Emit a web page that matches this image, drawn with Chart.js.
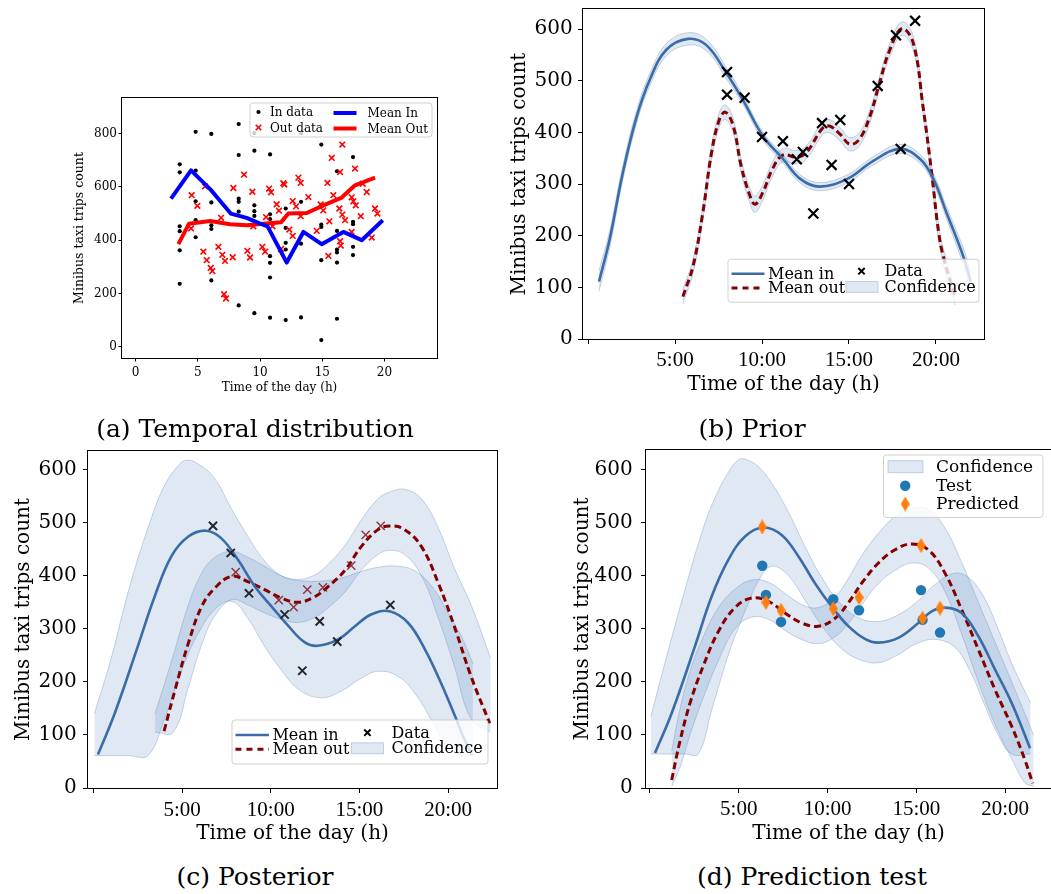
<!DOCTYPE html>
<html>
<head>
<meta charset="utf-8">
<script src="https://cdn.jsdelivr.net/npm/chart.js@4.4.1/dist/chart.umd.min.js"></script>
<style>
  html, body { margin: 0; padding: 0; background: #fff; }
  body { position: relative; width: 1051px; height: 894px; overflow: hidden; }
  canvas { position: absolute; }
  .cap { position: absolute; font-family: 'DejaVu Serif', serif; font-size: 25px; line-height: 25px;
         color: #000; white-space: nowrap; transform: translateX(-50%); }
</style>
</head>
<body>
<canvas id="panelA" width="390" height="312" style="left:60px;top:90px;width:390px;height:312px"></canvas>
<canvas id="panelB" width="500" height="400" style="left:500px;top:0px;width:500px;height:400px"></canvas>
<canvas id="panelC" width="510" height="410" style="left:0px;top:440px;width:510px;height:410px"></canvas>
<canvas id="panelD" width="500" height="410" style="left:560px;top:440px;width:500px;height:410px"></canvas>
<div class="cap" style="left:255px;top:416px">(a) Temporal distribution</div>
<div class="cap" style="left:752px;top:416px">(b) Prior</div>
<div class="cap" style="left:255px;top:864px">(c) Posterior</div>
<div class="cap" style="left:812px;top:864px">(d) Prediction test</div>
<script>
// ---------- (a) temporal distribution ----------
const aInHours = [3.54,3.54,3.54,3.54,3.54,3.54, 4.82,4.82,4.82,4.82,4.82, 6.08,6.08,6.08,6.08,6.08,
  8.28,8.28,8.28,8.28,8.28,8.28, 9.54,9.54,9.54,9.54,9.54,9.54, 10.8,10.8,10.8,10.8,10.8,10.8,10.8,
  12.06,12.06,12.06,12.06,12.06, 13.29,13.29,13.29,13.29, 14.92,14.92,14.92,14.92,14.92,
  16.18,16.18,16.18,16.18,16.18,16.18, 17.47,17.47,17.47,17.47,17.47];
const aInCounts = [685,655,452,434,362,236, 807,661,546,475,411, 799,542,456,442,249,
  836,720,556,544,507,155, 802,736,531,509,491,126, 722,497,479,340,315,260,109,
  519,446,390,365,100, 802,544,387,110, 759,459,450,325,25,
  659,435,365,354,316,105, 712,469,460,375,344];
const aOutHours = [4.5,4.96,4.45,5.44,5.71,6.03,6.16,5.57,6.65,6.86,6.97,7.18,7.1,7.26,7.8,7.85,8.71,8.98,9.19,9.38,
  9.46,10.18,10.4,10.48,10.72,10.88,11.0,11.33,11.52,11.68,11.87,11.95,12.35,12.62,12.62,12.89,13.08,13.26,13.26,13.88,
  14.55,14.87,15.08,15.41,15.49,15.57,15.76,15.89,16.37,16.43,16.48,16.61,16.61,16.83,17.36,17.5,17.63,17.69,17.36,18.09,
  18.25,18.57,18.97,19.24,19.43,16.43];
const aOutCounts = [569,529,444,357,325,296,284,602,375,484,345,322,197,181,336,596,646,360,335,582,
  452,375,357,487,594,580,452,535,511,367,614,609,440,416,547,527,635,615,490,562,
  435,534,512,615,341,471,709,569,519,396,380,759,496,475,561,546,669,531,431,490,
  612,581,410,519,500,656];
const aMeanInHours = [2.84, 4.45, 5.98, 7.64, 8.92, 10.0, 10.6, 12.14, 13.48, 14.95, 16.69, 18.17, 19.86];
const aMeanIn = [556, 662, 592, 500, 484, 462, 452, 316, 431, 385, 431, 400, 475];
const aMeanOutHours = [3.43, 4.29, 5.98, 7.58, 8.92, 10.26, 11.68, 12.27, 13.75, 15.09, 16.56, 17.63, 19.24];
const aMeanOut = [385, 462, 472, 460, 456, 462, 467, 500, 502, 531, 560, 606, 635];
const aHourTicks = [0, 5, 10, 15, 20];
const aHourLabels = ['0', '5', '10', '15', '20'];
const aCountTicks = [0, 200, 400, 600, 800];

// ---------- (b) prior ----------
const bInHours = [0.63, 1.25, 2.0, 2.8, 3.55, 4.5, 5.75, 6.8, 7.95, 8.9, 10.05, 11.2, 12.2, 13.3, 14.9, 16.4, 17.95, 19.1, 19.85, 20.6, 21.55, 22.0];
const bMeanIn  = [111, 194, 322, 431, 502, 560, 581, 569, 515, 463, 393, 349, 310, 295, 310, 345, 368, 348, 310, 245, 162, 111];
const bInUpper = [132, 211, 336, 444, 514, 572, 593, 580, 526, 472, 401, 357, 318, 303, 318, 353, 377, 357, 320, 257, 178, 130];
const bInLower = [92, 177, 308, 418, 490, 548, 569, 558, 504, 454, 385, 341, 302, 287, 302, 337, 359, 339, 300, 233, 146, 92];
const bOutHours = [5.45, 6.05, 6.6, 7.1, 7.55, 7.9, 8.35, 8.8, 9.3, 9.6, 10.05, 10.6, 11.2, 12.0, 12.55, 13.5, 13.9, 14.5, 15.05, 15.6,
  16.2, 16.7, 17.35, 18.05, 18.7, 19.25, 19.75, 20.15, 20.45, 21.1];
const bMeanOut  = [82, 143, 245, 361, 425, 439, 412, 335, 278, 261, 284, 329, 356, 352, 361, 409, 412, 396, 377, 387,
  431, 489, 560, 601, 572, 451, 322, 207, 156, 82];
const bOutUpper = [96, 157, 259, 375, 439, 453, 426, 349, 293, 277, 299, 343, 369, 365, 374, 422, 425, 409, 390, 400,
  444, 502, 573, 614, 586, 465, 337, 222, 172, 98];
const bOutLower = [68, 129, 231, 347, 411, 425, 398, 321, 263, 245, 269, 315, 343, 339, 348, 396, 399, 383, 364, 374,
  418, 476, 547, 588, 558, 437, 307, 192, 140, 66];
const bDataHours  = [7.99, 7.99, 9.0, 10.0, 11.2, 12.0, 12.35, 12.95, 13.45, 14.0, 14.5, 15.0, 16.65, 17.7, 17.97, 18.8];
const bDataCounts = [517, 473, 467, 391, 383, 348, 362, 243, 418, 337, 424, 300, 490, 588, 368, 616];

// ---------- (c) posterior ----------
const cInHours = [0.25, 1.2, 2.5, 3.45, 4.4, 5.35, 6.35, 7.2, 8.15, 9.1, 10.05, 11.0, 11.9, 12.65, 13.8, 14.75, 15.65, 16.7,
  17.75, 18.7, 19.6, 20.4, 20.85, 21.35];
const cMeanIn  = [63, 141, 267, 361, 437, 474, 485, 471, 430, 380, 342, 305, 275, 268, 280, 305, 327, 333,
  311, 261, 198, 135, 97, 62];
const cInBandHours = [0.05, 1.0, 2.0, 3.07, 4.0, 4.9, 5.25, 5.8, 6.8, 7.8, 8.7, 9.6, 10.6, 11.6, 12.85, 14.0, 15.0, 16.05,
  17.2, 18.2, 19.2, 20.0, 20.75, 21.4];
const cInUpper = [140, 245, 375, 490, 570, 612, 618, 613, 585, 525, 475, 430, 400, 391, 390, 396, 407, 416,
  418, 408, 375, 330, 286, 235];
const cInLower = [61, 61, 61, 61, 130, 215, 245, 285, 335, 352, 320, 270, 222, 185, 170, 183, 205, 220,
  210, 175, 120, 75, 61, 61];
const cOutHours = [3.98, 4.6, 5.35, 6.1, 6.85, 7.8, 8.7, 9.65, 10.6, 11.55, 12.5, 13.25, 14.2, 15.1, 16.05, 16.7, 17.55,
  18.5, 19.45, 20.35, 21.3, 22.35];
const cMeanOut = [107, 185, 273, 342, 377, 399, 389, 374, 358, 350, 361, 380, 411, 455, 487, 494, 487,
  455, 386, 305, 210, 122];
const cOutBandHours = [3.47, 4.5, 5.35, 6.1, 6.85, 7.8, 8.7, 9.65, 10.6, 11.55, 12.5, 13.25, 14.2, 15.1, 16.05, 16.7, 17.55,
  18.5, 19.45, 20.35, 21.3, 22.4];
const cOutUpper = [140, 250, 345, 405, 435, 446, 435, 418, 400, 393, 402, 422, 458, 505, 545, 558, 563,
  545, 490, 415, 345, 245];
const cOutLower = [105, 105, 190, 270, 325, 355, 345, 330, 318, 312, 322, 340, 370, 410, 440, 448, 440,
  400, 320, 230, 130, 105];
const cInDataHours  = [6.74, 7.74, 8.77, 10.78, 11.78, 12.76, 13.75, 16.74];
const cInDataCounts = [494, 443, 367, 327, 221, 314, 276, 345];
const cOutDataHours  = [8.02, 10.45, 11.29, 12.06, 12.94, 14.54, 15.35, 16.2];
const cOutDataCounts = [407, 354, 341, 374, 378, 419, 477, 494];

// ---------- (d) prediction test ----------
const dInHours = [0.28, 1.22, 2.53, 3.47, 4.41, 5.35, 6.38, 7.41, 8.35, 9.29, 10.23, 11.17, 12.1, 12.86, 13.98, 15.11, 15.86,
  16.61, 17.55, 18.49, 19.43, 20.37, 21.4];
const dMeanIn  = [66, 141, 267, 361, 430, 474, 491, 477, 437, 386, 342, 305, 281, 274, 283, 311, 333,
  340, 330, 286, 223, 160, 75];
const dInBandHours = [0.05, 0.84, 1.97, 2.72, 3.5, 4.5, 5.07, 5.5, 6.1, 6.85, 7.8, 8.8, 9.8, 10.8, 11.8, 12.86, 13.9, 15.0,
  16.1, 17.17, 18.0, 18.8, 19.6, 20.37, 21.43];
const dInUpper = [135, 236, 374, 460, 535, 600, 620, 618, 606, 575, 520, 450, 390, 345, 320, 314, 325, 350,
  385, 405, 395, 360, 300, 235, 160];
const dInLower = [64, 64, 64, 64, 150, 260, 310, 345, 390, 418, 400, 350, 300, 262, 242, 236, 250, 272,
  280, 265, 222, 160, 100, 64, 64];
const dOutHours = [1.22, 1.7, 2.3, 3.0, 3.85, 4.79, 5.73, 6.66, 7.6, 8.54, 9.48, 10.42, 11.17, 11.92, 12.86, 13.8, 14.73,
  15.67, 16.61, 17.55, 18.49, 19.43, 20.37, 21.11, 21.55];
const dMeanOut = [15, 90, 165, 230, 295, 340, 358, 352, 330, 311, 305, 320, 349, 386, 424, 449, 460,
  449, 405, 336, 261, 185, 116, 53, 9];
const dOutBandHours = [1.22, 1.7, 2.3, 3.0, 3.85, 4.79, 5.73, 6.66, 7.6, 8.54, 9.48, 10.42, 11.17, 11.92, 12.86, 13.8, 14.73,
  15.67, 16.61, 17.55, 18.49, 19.43, 20.37, 21.11, 21.6];
const dOutUpper = [70, 150, 225, 285, 340, 375, 392, 388, 367, 346, 340, 360, 395, 438, 480, 512, 527,
  525, 490, 425, 350, 275, 200, 140, 100];
const dOutLower = [3, 40, 105, 170, 240, 300, 322, 318, 297, 280, 272, 285, 310, 345, 385, 410, 424,
  415, 370, 290, 200, 120, 55, 10, 3];
const dTestHours  = [6.32, 6.53, 7.38, 10.32, 11.77, 15.26, 15.35, 16.33];
const dTestCounts = [419, 364, 313, 356, 335, 373, 317, 293];
const dPredCounts = [492, 350, 335, 338, 359, 457, 320, 339];

// shared tick values and labels for the GP panels
const hourTicks = [0, 5, 10, 15, 20];
const hourTickLabels = ['', '5:00', '10:00', '15:00', '20:00'];
const countTicks = [0, 100, 200, 300, 400, 500, 600];

// ---------- styling ----------
const SERIF = "'DejaVu Serif', serif";
const TIMES = "'Liberation Serif', 'Times New Roman', serif";
const BAND_FILL = 'rgba(80,130,190,0.18)';
const BAND_EDGE = 'rgba(70,110,170,0.28)';
const IN_BLUE = '#3a6ca7';
const OUT_RED = '#850000';
const DASH = [7, 4];
const SMOOTH = 0.4;

Chart.defaults.font.family = SERIF;
Chart.defaults.color = '#000';

const xy = (xs, ys) => xs.map((x, i) => ({ x, y: ys[i] }));

function thinDiamond(color, w, h) {
  const c = document.createElement('canvas');
  c.width = w; c.height = h;
  const g = c.getContext('2d');
  g.fillStyle = color;
  g.beginPath();
  g.moveTo(w / 2, 0); g.lineTo(w, h / 2); g.lineTo(w / 2, h); g.lineTo(0, h / 2);
  g.closePath(); g.fill();
  return c;
}
const DIAMOND = thinDiamond('#ff7f0e', 9, 15);

function band(hours, upper, lower, order) {
  const common = { borderColor: BAND_EDGE, borderWidth: 1, backgroundColor: BAND_FILL, pointRadius: 0,
                   tension: SMOOTH, order };
  return [
    Object.assign({ data: xy(hours, upper), fill: '+1' }, common),
    Object.assign({ data: xy(hours, lower), fill: false }, common)
  ];
}
function curve(hours, values, color, width, dash, order, tension) {
  return { data: xy(hours, values), borderColor: color, borderWidth: width, borderDash: dash || [],
           pointRadius: 0, fill: false, order, borderJoinStyle: 'round',
           tension: tension === undefined ? SMOOTH : tension };
}
function marks(hours, values, style, order) {
  return Object.assign({ data: xy(hours, values), showLine: false, fill: false, order, pointHoverRadius: 0 }, style);
}

function zeroPad(s) { s.paddingTop = 0; s.paddingBottom = 0; s.paddingLeft = 0; s.paddingRight = 0; }

function axes(o) {
  const f = (family, size) => ({ family, size, lineHeight: 1.2 });
  return {
    x: {
      type: 'linear', min: o.x[0], max: o.x[1],
      afterBuildTicks: s => { s.ticks = o.xTicks.map(value => ({ value })); },
      afterFit: s => { s.height = o.xHeight; zeroPad(s); },
      ticks: { autoSkip: false, maxRotation: 0, minRotation: 0, padding: o.xTickPad, color: '#000',
               font: f(o.xTickFamily, o.xTickSize), callback: v => o.xLabels[o.xTicks.indexOf(v)] },
      grid: { display: true, drawOnChartArea: false, drawTicks: true, tickLength: o.tickLen,
              tickColor: '#000', tickWidth: 1 },
      border: { display: false },
      title: { display: true, text: 'Time of the day (h)', color: '#000', font: f(SERIF, o.xTitleSize),
               padding: { top: 0, bottom: o.xTitlePad } }
    },
    y: {
      type: 'linear', min: o.y[0], max: o.y[1],
      afterBuildTicks: s => { s.ticks = o.yTicks.map(value => ({ value })); },
      afterFit: s => { s.width = o.yWidth; zeroPad(s); },
      ticks: { autoSkip: false, padding: o.yTickPad, color: '#000', font: f(SERIF, o.yTickSize),
               callback: v => String(v) },
      grid: { display: true, drawOnChartArea: false, drawTicks: true, tickLength: o.tickLen,
              tickColor: '#000', tickWidth: 1 },
      border: { display: false },
      title: { display: true, text: 'Minibus taxi trips count', color: '#000', font: f(SERIF, o.yTitleSize),
               padding: { top: o.yTitlePad, bottom: 0 } }
    }
  };
}

// black frame round the plotting area
const frame = {
  id: 'frame',
  afterDatasetsDraw(chart) {
    const { ctx, chartArea: a } = chart;
    const L = Math.round(a.left), T = Math.round(a.top), R = Math.round(a.right), B = Math.round(a.bottom);
    ctx.save();
    ctx.strokeStyle = '#000'; ctx.lineWidth = 1;
    ctx.strokeRect(L - 0.5, T - 0.5, R - L + 1, B - T + 1);
    ctx.restore();
  }
};

function roundRect(ctx, x, y, w, h, r) {
  ctx.beginPath();
  ctx.moveTo(x + r, y); ctx.lineTo(x + w - r, y); ctx.arcTo(x + w, y, x + w, y + r, r);
  ctx.lineTo(x + w, y + h - r); ctx.arcTo(x + w, y + h, x + w - r, y + h, r);
  ctx.lineTo(x + r, y + h); ctx.arcTo(x, y + h, x, y + h - r, r);
  ctx.lineTo(x, y + r); ctx.arcTo(x, y, x + r, y, r); ctx.closePath();
}

function drawKey(ctx, k, cx, cy) {
  ctx.save();
  if (k.type === 'line') {
    ctx.strokeStyle = k.color; ctx.lineWidth = k.width; ctx.setLineDash(k.dash || []);
    ctx.beginPath(); ctx.moveTo(cx - k.len / 2, cy); ctx.lineTo(cx + k.len / 2, cy); ctx.stroke();
  } else if (k.type === 'patch') {
    ctx.fillStyle = BAND_FILL; ctx.fillRect(cx - k.w / 2, cy - k.h / 2, k.w, k.h);
    ctx.strokeStyle = BAND_EDGE; ctx.lineWidth = 1; ctx.strokeRect(cx - k.w / 2, cy - k.h / 2, k.w, k.h);
  } else if (k.type === 'dot') {
    ctx.fillStyle = k.color; ctx.beginPath(); ctx.arc(cx, cy, k.r, 0, Math.PI * 2); ctx.fill();
  } else if (k.type === 'x') {
    ctx.strokeStyle = k.color; ctx.lineWidth = k.width; ctx.beginPath();
    ctx.moveTo(cx - k.r, cy - k.r); ctx.lineTo(cx + k.r, cy + k.r);
    ctx.moveTo(cx + k.r, cy - k.r); ctx.lineTo(cx - k.r, cy + k.r); ctx.stroke();
  } else if (k.type === 'diamond') {
    ctx.drawImage(DIAMOND, cx - DIAMOND.width / 2, cy - DIAMOND.height / 2);
  }
  ctx.restore();
}

function boxLegend(spec) {
  return {
    id: 'boxLegend',
    afterDraw(chart) {
      const { ctx, chartArea: a } = chart;
      const [x0, y0, x1, y1] = spec.box;
      const L = a.left + x0, T = a.top + y0;
      ctx.save();
      roundRect(ctx, L, T, x1 - x0, y1 - y0, 3);
      ctx.fillStyle = 'rgba(255,255,255,0.8)'; ctx.fill();
      ctx.strokeStyle = 'rgba(204,204,204,0.9)'; ctx.lineWidth = 1; ctx.stroke();
      ctx.font = spec.size + 'px ' + SERIF;
      ctx.textBaseline = 'middle';
      for (const it of spec.items) {
        drawKey(ctx, it.key, L + it.sx, T + it.y);
        ctx.fillStyle = '#000';
        ctx.fillText(it.text, L + it.tx, T + it.y + 1);
      }
      ctx.restore();
    }
  };
}

function build(id, layout, scales, datasets, legend) {
  return new Chart(document.getElementById(id), {
    type: 'line',
    data: { datasets },
    options: {
      responsive: false, animation: false, devicePixelRatio: 1, events: [],
      layout: { padding: layout },
      scales,
      plugins: { legend: { display: false }, tooltip: { enabled: false } }
    },
    plugins: [frame, boxLegend(legend)]
  });
}

// ---------- panel (a) ----------
build('panelA', { top: 8, right: 13, left: 0, bottom: 0 },
  axes({ x: [-1.10, 24.22], y: [-42.4, 934], xTicks: aHourTicks, xLabels: aHourLabels, yTicks: aCountTicks,
         xHeight: 44, yWidth: 62, tickLen: 3.5, xTickPad: 4, yTickPad: 1.5,
         xTickFamily: SERIF, xTickSize: 12, yTickSize: 12, xTitleSize: 12, xTitlePad: 6.5,
         yTitleSize: 12.5, yTitlePad: 12 }),
  [
    curve(aMeanInHours, aMeanIn, '#0000ff', 4, null, 1, 0),
    curve(aMeanOutHours, aMeanOut, '#ff0000', 4, null, 2, 0),
    marks(aOutHours, aOutCounts, { pointStyle: 'crossRot', pointRadius: 4, pointBorderColor: '#ff0000',
      pointBackgroundColor: '#ff0000', pointBorderWidth: 1.6 }, 3),
    marks(aInHours, aInCounts, { pointStyle: 'circle', pointRadius: 2.1, pointBorderWidth: 0,
      pointBackgroundColor: '#000', pointBorderColor: '#000' }, 4)
  ],
  { box: [128, 5, 310, 39], size: 12, items: [
    { text: 'In data', key: { type: 'dot', r: 2.1, color: '#000' }, sx: 8.5, tx: 20, y: 9 },
    { text: 'Out data', key: { type: 'x', r: 2.8, width: 1.6, color: '#ff0000' }, sx: 8.5, tx: 20, y: 24.5 },
    { text: 'Mean In', key: { type: 'line', len: 23, width: 4, color: '#0000ff' }, sx: 95, tx: 117.5, y: 10 },
    { text: 'Mean Out', key: { type: 'line', len: 23, width: 4, color: '#ff0000' }, sx: 95, tx: 117.5, y: 25.5 }
  ] });

// ---------- panel (b) ----------
build('panelB', { top: 7, right: 16, left: 0, bottom: 0 },
  axes({ x: [-0.29, 22.76], y: [0, 638.5], xTicks: hourTicks, xLabels: hourTickLabels, yTicks: countTicks,
         xHeight: 61, yWidth: 83, tickLen: 5, xTickPad: 3.4, yTickPad: 5.3,
         xTickFamily: TIMES, xTickSize: 21, yTickSize: 20, xTitleSize: 20, xTitlePad: 3.3,
         yTitleSize: 20, yTitlePad: 8 }),
  [
    marks(bDataHours, bDataCounts, { pointStyle: 'crossRot', pointRadius: 7, pointBorderColor: '#000',
      pointBackgroundColor: '#000', pointBorderWidth: 2.2 }, 0),
    curve(bInHours, bMeanIn, IN_BLUE, 2.6, null, 1),
    curve(bOutHours, bMeanOut, OUT_RED, 3, DASH, 2),
    ...band(bInHours, bInUpper, bInLower, 5),
    ...band(bOutHours, bOutUpper, bOutLower, 6)
  ],
  { box: [145, 250, 396, 293], size: 16, items: [
    { text: 'Mean in', key: { type: 'line', len: 33, width: 2.6, color: IN_BLUE }, sx: 20, tx: 40, y: 14.5 },
    { text: 'Mean out', key: { type: 'line', len: 33, width: 3, color: OUT_RED, dash: [6, 5] }, sx: 20, tx: 40, y: 28.7 },
    { text: 'Data', key: { type: 'x', r: 3.2, width: 2, color: '#000' }, sx: 133.5, tx: 156.5, y: 12 },
    { text: 'Confidence', key: { type: 'patch', w: 32, h: 11 }, sx: 134, tx: 156.5, y: 27.7 }
  ] });

// ---------- panel (c) ----------
build('panelC', { top: 11, right: 13, left: 0, bottom: 0 },
  axes({ x: [-0.31, 22.76], y: [0, 635.2], xTicks: hourTicks, xLabels: hourTickLabels, yTicks: countTicks,
         xHeight: 62, yWidth: 88, tickLen: 5, xTickPad: 4.4, yTickPad: 6.3,
         xTickFamily: TIMES, xTickSize: 21, yTickSize: 20, xTitleSize: 20, xTitlePad: 4.7,
         yTitleSize: 20, yTitlePad: 12 }),
  [
    marks(cInDataHours, cInDataCounts, { pointStyle: 'crossRot', pointRadius: 5.8, pointBorderColor: '#25262e',
      pointBackgroundColor: '#25262e', pointBorderWidth: 2 }, 0),
    marks(cOutDataHours, cOutDataCounts, { pointStyle: 'crossRot', pointRadius: 5.8, pointBorderColor: 'rgba(130,20,30,0.85)',
      pointBackgroundColor: 'rgba(130,20,30,0.85)', pointBorderWidth: 1.4 }, 0),
    curve(cInHours, cMeanIn, IN_BLUE, 2.6, null, 1),
    curve(cOutHours, cMeanOut, OUT_RED, 3, DASH, 2),
    ...band(cInBandHours, cInUpper, cInLower, 5),
    ...band(cOutBandHours, cOutUpper, cOutLower, 6)
  ],
  { box: [144, 269, 400, 313], size: 16, items: [
    { text: 'Mean in', key: { type: 'line', len: 33.5, width: 2.6, color: IN_BLUE }, sx: 20.2, tx: 40.4, y: 15 },
    { text: 'Mean out', key: { type: 'line', len: 33.5, width: 3, color: OUT_RED, dash: [6, 5] }, sx: 20.2, tx: 40.4, y: 29.3 },
    { text: 'Data', key: { type: 'x', r: 3.2, width: 2, color: '#000' }, sx: 135.4, tx: 159.4, y: 12.7 },
    { text: 'Confidence', key: { type: 'patch', w: 32, h: 11 }, sx: 135.5, tx: 159.4, y: 28.3 }
  ] });

// ---------- panel (d) ----------
build('panelD', { top: 10, right: 9, left: 0, bottom: 0 },
  axes({ x: [-0.225, 22.58], y: [0, 637.1], xTicks: hourTicks, xLabels: hourTickLabels, yTicks: countTicks,
         xHeight: 62, yWidth: 86, tickLen: 5, xTickPad: 3.4, yTickPad: 8.3,
         xTickFamily: TIMES, xTickSize: 21, yTickSize: 20, xTitleSize: 20, xTitlePad: 4.7,
         yTitleSize: 20, yTitlePad: 11 }),
  [
    marks(dTestHours, dPredCounts, { pointStyle: DIAMOND, pointRadius: 7 }, 0),
    marks(dTestHours, dTestCounts, { pointStyle: 'circle', pointRadius: 5.2, pointBorderWidth: 0,
      pointBackgroundColor: '#1f77b4', pointBorderColor: '#1f77b4' }, 0),
    curve(dInHours, dMeanIn, IN_BLUE, 2.6, null, 1),
    curve(dOutHours, dMeanOut, OUT_RED, 3, DASH, 2),
    ...band(dInBandHours, dInUpper, dInLower, 5),
    ...band(dOutBandHours, dOutUpper, dOutLower, 6)
  ],
  { box: [237.5, 5, 397, 67.5], size: 17, items: [
    { text: 'Confidence', key: { type: 'patch', w: 35, h: 12 }, sx: 22, tx: 52.5, y: 11.7 },
    { text: 'Test', key: { type: 'dot', r: 5.2, color: '#1f77b4' }, sx: 21.7, tx: 52.5, y: 30.7 },
    { text: 'Predicted', key: { type: 'diamond' }, sx: 21.7, tx: 52.5, y: 49 }
  ] });
</script>
</body>
</html>
